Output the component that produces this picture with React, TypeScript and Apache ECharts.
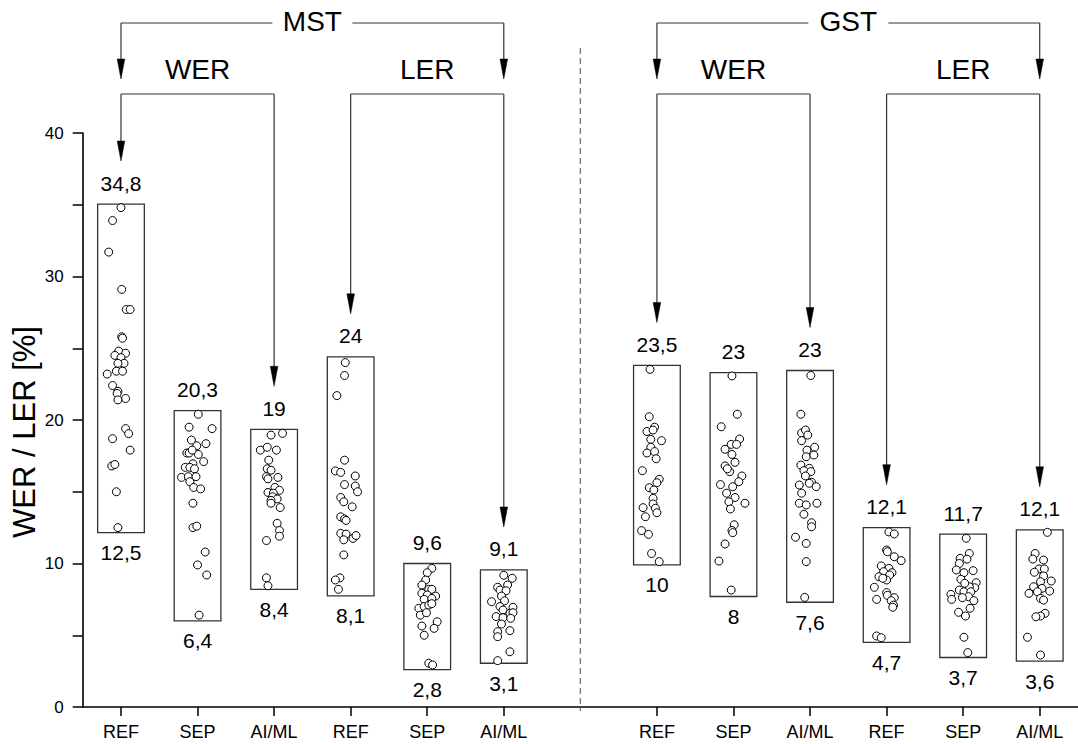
import React, { useEffect, useRef } from "react";
import * as echarts from "echarts";

// ---- data ----
const categories = ["REF", "SEP", "AI/ML", "REF", "SEP", "AI/ML", "", "REF", "SEP", "AI/ML", "REF", "SEP", "AI/ML"];
const groupSlots = [0, 1, 2, 3, 4, 5, 7, 8, 9, 10, 11, 12];
const maxLabels = [34.8, 20.3, 19, 24, 9.6, 9.1, 23.5, 23, 23, 12.1, 11.7, 12.1];
const minLabels = [12.5, 6.4, 8.4, 8.1, 2.8, 3.1, 10, 8, 7.6, 4.7, 3.7, 3.6];
const boxHigh = [35.05, 20.65, 19.35, 24.4, 10.0, 9.55, 23.8, 23.3, 23.45, 12.5, 12.05, 12.35];
const boxLow = [12.15, 6.0, 8.2, 7.75, 2.6, 3.05, 9.9, 7.7, 7.3, 4.5, 3.45, 3.2];
const yTickLabels = [0, 10, 20, 30, 40];
const yAxisTitle = "WER / LER [%]";

// points: [offset from group centre (in category slots), value]
const mstWerRef = [
  [0.0, 34.8], [-0.11, 33.9], [-0.16, 31.7], [0.01, 29.1], [0.07, 27.7], [0.12, 27.7], [0.01, 25.8], [0.02, 25.7],
  [-0.03, 24.8], [0.06, 24.65], [-0.08, 24.5], [0.0, 24.35], [0.04, 23.95], [-0.04, 23.95], [-0.06, 23.4], [0.02, 23.4],
  [-0.18, 23.2], [-0.11, 22.4], [-0.04, 22.0], [-0.05, 21.85], [0.06, 21.5], [-0.04, 21.4], [0.06, 19.4], [0.1, 19.05],
  [-0.11, 18.7], [0.12, 17.9], [-0.12, 16.8], [-0.08, 16.9], [-0.06, 15.0], [-0.04, 12.5],
];
const mstWerSep = [
  [0.01, 20.4], [-0.11, 19.5], [0.19, 19.4], [-0.08, 18.6], [-0.01, 18.2], [0.11, 18.35], [-0.14, 17.7], [-0.11, 17.7],
  [0.01, 17.6], [-0.07, 17.9], [0.08, 17.1], [-0.06, 16.95], [-0.16, 16.7], [-0.1, 16.7], [-0.04, 16.6], [-0.21, 16.0],
  [-0.12, 16.05], [-0.02, 16.05], [-0.1, 15.7], [-0.05, 15.3], [0.04, 15.2], [-0.06, 14.2], [-0.06, 12.5], [-0.01, 12.6],
  [0.1, 10.8], [0.0, 9.9], [0.12, 9.2], [0.02, 6.4],
];
const mstWerAi = [
  [-0.04, 18.95], [0.11, 19.07], [-0.18, 17.9], [-0.09, 18.1], [0.03, 17.9], [-0.07, 17.2], [-0.09, 16.6], [-0.04, 16.5],
  [-0.1, 16.05], [0.05, 16.0], [-0.08, 15.9], [0.01, 15.3], [0.07, 15.1], [-0.08, 14.95], [-0.01, 14.9], [-0.02, 14.65],
  [0.04, 14.5], [-0.04, 14.4], [-0.04, 14.2], [0.08, 13.9], [0.04, 12.8], [0.07, 12.3], [0.07, 11.9], [-0.1, 11.6],
  [-0.1, 9.0], [-0.08, 8.45],
];
const mstLerRef = [
  [-0.07, 24.0], [-0.08, 23.1], [-0.18, 21.7], [-0.08, 17.2], [-0.2, 16.45], [-0.13, 16.35], [0.06, 16.1], [-0.08, 15.5],
  [0.06, 15.4], [0.09, 15.0], [-0.13, 14.6], [-0.09, 14.3], [0.02, 13.95], [-0.13, 13.25], [-0.08, 13.1], [-0.06, 13.0],
  [-0.13, 12.1], [-0.06, 12.05], [-0.09, 11.65], [0.03, 11.75], [0.07, 11.95], [-0.09, 10.6], [-0.14, 9.0], [-0.2, 8.85],
  [-0.16, 8.2],
];
const mstLerSep = [
  [0.06, 9.66], [0.0, 9.36], [-0.02, 8.85], [-0.07, 8.5], [0.02, 8.2], [0.06, 8.2], [-0.07, 7.92], [0.0, 7.8],
  [0.11, 7.73], [-0.04, 7.5], [0.06, 7.57], [-0.11, 6.88], [-0.04, 7.0], [0.02, 7.1], [0.06, 7.2], [-0.09, 6.4],
  [-0.01, 6.57], [0.13, 5.94], [0.09, 5.48], [-0.07, 5.64], [-0.04, 5.0], [0.02, 3.05], [0.07, 2.93],
];
const mstLerAi = [
  [0.0, 9.18], [0.11, 8.97], [-0.08, 8.34], [0.05, 8.5], [-0.05, 8.15], [0.03, 8.1], [-0.03, 7.73], [-0.16, 7.34],
  [0.01, 7.4], [-0.05, 7.0], [-0.01, 6.76], [0.12, 6.95], [0.08, 6.53], [0.12, 6.57], [-0.1, 6.3], [-0.01, 6.22],
  [0.09, 6.18], [-0.03, 5.78], [-0.08, 5.25], [0.08, 5.32], [-0.08, 4.9], [0.08, 3.85], [-0.08, 3.23],
];
const gstWerRef = [
  [-0.09, 23.53], [-0.1, 20.23], [-0.13, 19.2], [-0.03, 19.5], [-0.05, 19.3], [-0.08, 18.65], [0.06, 18.56], [-0.08, 18.1],
  [-0.13, 17.7], [-0.03, 17.8], [-0.01, 17.3], [-0.19, 16.47], [0.03, 15.87], [0.0, 15.63], [-0.1, 15.28], [-0.04, 15.12],
  [-0.05, 14.54], [-0.05, 14.15], [-0.02, 13.85], [0.0, 13.54], [-0.18, 13.89], [-0.15, 13.26], [-0.2, 12.29], [-0.11, 12.03],
  [-0.07, 10.7], [0.03, 10.13],
];
const gstWerSep = [
  [-0.02, 23.07], [0.05, 20.4], [-0.16, 19.53], [0.08, 18.68], [-0.03, 18.3], [0.04, 18.3], [-0.11, 17.96], [-0.02, 17.6],
  [0.02, 17.05], [-0.11, 16.8], [-0.05, 16.4], [-0.08, 16.6], [0.11, 16.1], [0.07, 15.7], [-0.17, 15.5], [-0.01, 15.35],
  [-0.09, 14.9], [0.02, 14.6], [-0.06, 14.3], [0.15, 14.2], [-0.04, 13.8], [0.01, 12.7], [-0.02, 12.3], [-0.01, 12.15],
  [-0.11, 11.36], [-0.19, 10.17], [-0.03, 8.15],
];
const gstWerAi = [
  [0.01, 23.1], [-0.12, 20.4], [-0.11, 19.1], [-0.06, 19.3], [-0.03, 18.95], [-0.11, 18.56], [0.06, 18.1], [-0.04, 17.9],
  [-0.05, 17.44], [0.05, 17.56], [-0.12, 16.86], [-0.01, 16.63], [-0.08, 16.47], [0.01, 16.4], [-0.06, 16.1], [0.02, 15.66],
  [-0.01, 15.59], [0.08, 15.35], [-0.14, 15.47], [-0.11, 14.9], [-0.14, 14.2], [-0.05, 14.08], [0.09, 14.2], [-0.08, 13.43],
  [0.02, 12.84], [0.02, 12.56], [-0.19, 11.83], [-0.05, 11.4], [-0.05, 10.13], [-0.07, 7.64],
];
const gstLerRef = [
  [0.03, 12.2], [0.1, 12.06], [0.0, 10.94], [0.01, 10.82], [0.1, 10.47], [0.19, 10.2], [-0.07, 9.83], [0.03, 9.66],
  [-0.04, 9.43], [0.07, 9.36], [0.04, 9.2], [-0.1, 9.08], [0.0, 8.85], [-0.05, 8.97], [-0.16, 8.34], [0.0, 7.97],
  [0.01, 7.78], [0.1, 7.62], [0.06, 7.41], [-0.13, 7.5], [0.09, 7.1], [0.08, 6.95], [-0.13, 4.95], [-0.07, 4.83],
];
const gstLerSep = [
  [0.04, 11.76], [0.08, 10.7], [-0.04, 10.36], [0.05, 10.3], [-0.05, 10.0], [-0.09, 9.55], [0.01, 9.36], [0.13, 9.5],
  [-0.03, 8.9], [0.17, 8.66], [0.15, 8.31], [0.08, 8.38], [0.02, 8.62], [-0.05, 8.15], [-0.16, 7.85], [0.01, 8.03],
  [0.1, 8.03], [-0.15, 7.5], [0.07, 7.69], [0.14, 7.41], [-0.01, 7.62], [0.09, 6.88], [-0.06, 6.6], [0.03, 6.34],
  [0.01, 4.86], [0.06, 3.79],
];
const gstLerAi = [
  [0.1, 12.17], [-0.06, 10.7], [-0.09, 10.31], [0.05, 10.24], [-0.01, 9.62], [0.06, 9.62], [-0.07, 9.39], [0.05, 9.13],
  [0.01, 8.73], [0.15, 8.78], [-0.08, 8.38], [0.03, 8.27], [-0.03, 8.03], [0.13, 8.08], [-0.14, 7.92], [0.01, 7.57],
  [0.05, 7.45], [0.07, 6.53], [0.01, 6.34], [-0.05, 6.29], [-0.16, 4.86], [0.01, 3.62],
];
const groupPoints = [mstWerRef, mstWerSep, mstWerAi, mstLerRef, mstLerSep, mstLerAi, gstWerRef, gstWerSep, gstWerAi, gstLerRef, gstLerSep, gstLerAi];

const outerBrackets = [
  { label: "MST", from: 0, to: 5 },
  { label: "GST", from: 7, to: 12 },
];
const innerBrackets = [
  { label: "WER", g1: 0, g2: 2 },
  { label: "LER", g1: 3, g2: 5 },
  { label: "WER", g1: 6, g2: 8 },
  { label: "LER", g1: 9, g2: 11 },
];
const dividerSlot = 6;

const FONT = '"Liberation Sans", Arial, sans-serif';
const fmt = (v: number) => String(v).replace(".", ",");

export default function App() {
  const ref = useRef<HTMLDivElement>(null);
  useEffect(() => {
    if (!ref.current) return;
    const chart = echarts.init(ref.current, null, { renderer: "svg" });

    const scatterData: number[][] = [];
    groupPoints.forEach((pts, g) => {
      pts.forEach(([dx, v]) => scatterData.push([groupSlots[g] + dx, v]));
    });
    const boxData = groupSlots.map((s, i) => [s, boxLow[i], boxHigh[i], i]);

    chart.setOption({
      animation: false,
      grid: { left: 82.7, right: 0, top: 133, bottom: 37, containLabel: false },
      xAxis: [
        {
          type: "category",
          data: categories,
          boundaryGap: true,
          axisLine: { show: true, onZero: false, lineStyle: { color: "#000", width: 1.6 } },
          axisTick: {
            show: true,
            alignWithLabel: true,
            length: 9,
            lineStyle: { color: "#000", width: 1.5 },
            interval: (idx: number) => idx !== dividerSlot,
          },
          axisLabel: { color: "#000", fontSize: 18, fontFamily: FONT, margin: 16, interval: 0 },
          splitLine: { show: false },
        },
        { type: "value", min: -0.5, max: 12.5, show: false },
      ],
      yAxis: {
        type: "value",
        min: 0,
        max: 40,
        interval: 5,
        axisLine: { show: true, onZero: false, lineStyle: { color: "#000", width: 1.6 } },
        axisTick: { show: true, inside: false, length: 10, lineStyle: { color: "#000", width: 1.5 } },
        axisLabel: {
          color: "#000",
          fontSize: 17,
          fontFamily: FONT,
          margin: 19,
          formatter: (v: number) => (yTickLabels.includes(v) ? String(v) : ""),
        },
        splitLine: { show: false },
      },
      series: [
        {
          type: "custom",
          xAxisIndex: 1,
          yAxisIndex: 0,
          z: 2,
          data: boxData,
          renderItem: (params: any, api: any) => {
            const x = api.value(0);
            const lo = api.value(1);
            const hi = api.value(2);
            const i = api.value(3);
            const pTop = api.coord([x, hi]);
            const pBot = api.coord([x, lo]);
            const w = api.size([0.61, 0])[0];
            return {
              type: "group",
              children: [
                {
                  type: "rect",
                  shape: { x: pTop[0] - w / 2, y: pTop[1], width: w, height: pBot[1] - pTop[1] },
                  style: { fill: "none", stroke: "#333", lineWidth: 1.3 },
                },
                {
                  type: "text",
                  x: pTop[0],
                  y: pTop[1] - 21,
                  style: { text: fmt(maxLabels[i]), fill: "#000", font: `21px ${FONT}`, align: "center", verticalAlign: "middle" },
                },
                {
                  type: "text",
                  x: pBot[0],
                  y: pBot[1] + 20,
                  style: { text: fmt(minLabels[i]), fill: "#000", font: `21px ${FONT}`, align: "center", verticalAlign: "middle" },
                },
              ],
            };
          },
        },
        {
          type: "scatter",
          xAxisIndex: 1,
          yAxisIndex: 0,
          z: 3,
          symbol: "circle",
          symbolSize: 8,
          itemStyle: { color: "#fff", borderColor: "#000", borderWidth: 1, opacity: 1 },
          data: scatterData,
        },
      ],
    });

    const px = (s: number) => chart.convertToPixel({ xAxisIndex: 1 } as any, s) as unknown as number;
    const py = (v: number) => chart.convertToPixel({ yAxisIndex: 0 } as any, v) as unknown as number;

    const gfx: any[] = [];
    const stroke = "#333";
    const arrow = (x: number, y1: number, tip: number) => {
      gfx.push({ type: "line", shape: { x1: x, y1, x2: x, y2: tip - 16 }, style: { stroke, lineWidth: 1.2 } });
      gfx.push({
        type: "polygon",
        shape: { points: [[x - 3.8, tip - 20], [x + 3.8, tip - 20], [x, tip]] },
        style: { fill: "#000", stroke: "#000", lineWidth: 0.5 },
      });
    };

    // y axis title
    gfx.push({
      type: "text",
      x: 24,
      y: (py(0) + py(40)) / 2 + 12,
      rotation: Math.PI / 2,
      style: { text: yAxisTitle, fill: "#000", font: `31px ${FONT}`, align: "center", verticalAlign: "middle" },
    });

    // divider
    const dx = px(dividerSlot);
    gfx.push({
      type: "line",
      shape: { x1: dx, y1: 48, x2: dx, y2: py(0) + 4 },
      style: { stroke: "#777", lineWidth: 1.3, lineDash: [6, 4] },
    });

    const outerY = 23;
    const outerTip = 79;
    outerBrackets.forEach((b) => {
      const x1 = px(b.from);
      const x2 = px(b.to);
      const cx = (x1 + x2) / 2;
      const half = 40;
      gfx.push({ type: "line", shape: { x1, y1: outerY, x2: cx - half, y2: outerY }, style: { stroke, lineWidth: 1.2 } });
      gfx.push({ type: "line", shape: { x1: cx + half, y1: outerY, x2, y2: outerY }, style: { stroke, lineWidth: 1.2 } });
      gfx.push({
        type: "text",
        x: cx,
        y: outerY - 2,
        style: { text: b.label, fill: "#000", font: `28px ${FONT}`, align: "center", verticalAlign: "middle" },
      });
      arrow(x1, outerY, outerTip);
      arrow(x2, outerY, outerTip);
    });

    const innerY = 94;
    innerBrackets.forEach((b) => {
      const x1 = px(groupSlots[b.g1]);
      const x2 = px(groupSlots[b.g2]);
      const cx = (x1 + x2) / 2;
      gfx.push({ type: "line", shape: { x1, y1: innerY, x2, y2: innerY }, style: { stroke, lineWidth: 1.2 } });
      gfx.push({
        type: "text",
        x: cx,
        y: 69,
        style: { text: b.label, fill: "#000", font: `28px ${FONT}`, align: "center", verticalAlign: "middle" },
      });
      arrow(x1, innerY, py(boxHigh[b.g1]) - 43);
      arrow(x2, innerY, py(boxHigh[b.g2]) - 43);
    });

    chart.setOption({ graphic: gfx });

    return () => chart.dispose();
  }, []);

  return <div ref={ref} style={{ position: "absolute", left: 0, top: 0, width: 1078, height: 744, background: "#fff" }} />;
}
